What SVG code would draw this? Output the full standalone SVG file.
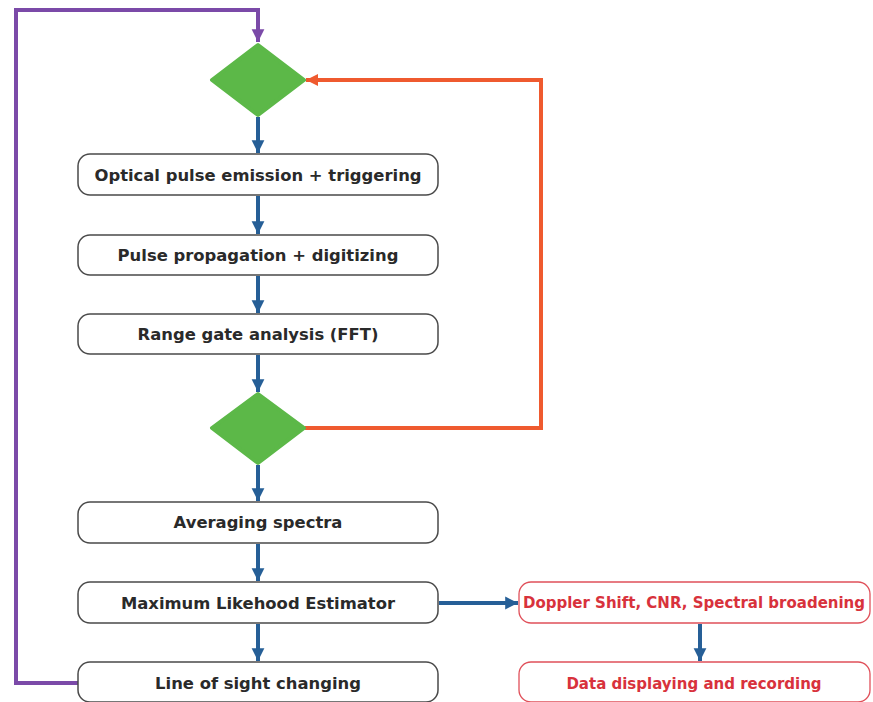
<svg xmlns="http://www.w3.org/2000/svg" width="873" height="702" viewBox="0 0 873 702">
<style>
.box{fill:#fff;stroke:#4a4a4a;stroke-width:1.5}
.rbox{fill:#fff;stroke:#e0505a;stroke-width:1.3}
.t{font-family:"DejaVu Sans","Liberation Sans",sans-serif;font-weight:bold;font-size:16.4px;fill:#2a2a2a;text-anchor:middle}
.rt{font-family:"DejaVu Sans","Liberation Sans",sans-serif;font-weight:bold;font-size:15px;fill:#d8323c;text-anchor:middle}
.dia{fill:#5cb848;stroke:#5cb848;stroke-width:4;stroke-linejoin:round}
.blue{stroke:#265f97;stroke-width:4;fill:none}
</style>
<defs>
<marker id="ab" viewBox="0 0 10 10" refX="10" refY="5" markerWidth="3.2" markerHeight="4" orient="auto" markerUnits="strokeWidth"><path d="M0,0L10,5L0,10z" fill="#265f97"/></marker>
<marker id="ap" viewBox="0 0 10 10" refX="10" refY="5" markerWidth="3.2" markerHeight="4" orient="auto" markerUnits="strokeWidth"><path d="M0,0L10,5L0,10z" fill="#7b4aa8"/></marker>
<marker id="ao" viewBox="0 0 10 10" refX="10" refY="5" markerWidth="3.5" markerHeight="3" orient="auto" markerUnits="strokeWidth"><path d="M0,0L10,5L0,10z" fill="#ef5a2f"/></marker>
</defs>
<g id="connectors">
<path d="M78,683 H16 V10 H258 V42" stroke="#7b4aa8" stroke-width="4" fill="none" marker-end="url(#ap)"/>
<path d="M305,428 H541 V80 H306" stroke="#ef5a2f" stroke-width="4" fill="none" marker-end="url(#ao)"/>
<path class="blue" d="M258,117 V153" marker-end="url(#ab)"/>
<path class="blue" d="M258,196 V234" marker-end="url(#ab)"/>
<path class="blue" d="M258,276 V313" marker-end="url(#ab)"/>
<path class="blue" d="M258,355 V392" marker-end="url(#ab)"/>
<path class="blue" d="M258,465 V501" marker-end="url(#ab)"/>
<path class="blue" d="M258,544 V581" marker-end="url(#ab)"/>
<path class="blue" d="M258,624 V661" marker-end="url(#ab)"/>
<path class="blue" d="M439,603 H518" marker-end="url(#ab)"/>
<path class="blue" d="M700,624 V661" marker-end="url(#ab)"/>
</g>
<g id="decision1"><path class="dia" d="M258,45 L304,80 L258,115 L212,80 Z"/></g>
<g id="box1"><rect class="box" x="78" y="154" width="360" height="41" rx="12"/><text class="t" x="258" y="181">Optical pulse emission + triggering</text></g>
<g id="box2"><rect class="box" x="78" y="235" width="360" height="40" rx="12"/><text class="t" x="258" y="261">Pulse propagation + digitizing</text></g>
<g id="box3"><rect class="box" x="78" y="314" width="360" height="40" rx="12"/><text class="t" x="258" y="340">Range gate analysis (FFT)</text></g>
<g id="decision2"><path class="dia" d="M258,394 L304,428 L258,463 L212,428 Z"/></g>
<g id="box4"><rect class="box" x="78" y="502" width="360" height="41" rx="12"/><text class="t" x="258" y="528">Averaging spectra</text></g>
<g id="box5"><rect class="box" x="78" y="582" width="360" height="41" rx="12"/><text class="t" x="258" y="609">Maximum Likehood Estimator</text></g>
<g id="box6"><rect class="box" x="78" y="662" width="360" height="40" rx="12"/><text class="t" x="258" y="689">Line of sight changing</text></g>
<g id="out1"><rect class="rbox" x="519" y="582" width="351" height="41" rx="12"/><text class="rt" x="694" y="608">Doppler Shift, CNR, Spectral broadening</text></g>
<g id="out2"><rect class="rbox" x="519" y="662" width="351" height="40" rx="12"/><text class="rt" x="694" y="689">Data displaying and recording</text></g>
</svg>
